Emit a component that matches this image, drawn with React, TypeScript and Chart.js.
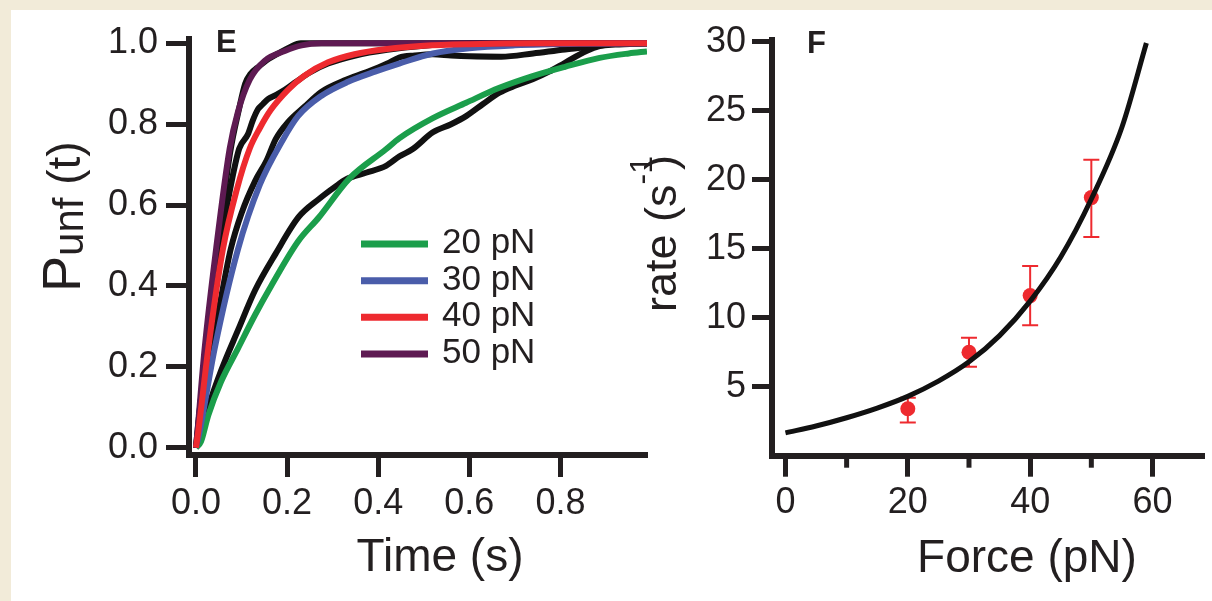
import React, { useEffect, useRef } from 'react';
import { Chart, registerables } from 'chart.js';

Chart.register(...registerables);

// ---------------- Panel E data (time in s, P_unf) ----------------
const fit20T = [0, 0.011, 0.027, 0.055, 0.092, 0.129, 0.165, 0.224, 0.27, 0.336, 0.417, 0.446, 0.52, 0.593, 0.666, 0.739, 0.81, 0.886, 0.95, 0.99];
const fit20P = [0, 0.015, 0.08, 0.163, 0.245, 0.327, 0.4, 0.51, 0.57, 0.665, 0.738, 0.765, 0.815, 0.853, 0.89, 0.919, 0.942, 0.964, 0.975, 0.98];

const fit30T = [0, 0.008, 0.041, 0.092, 0.14, 0.19, 0.224, 0.275, 0.334, 0.393, 0.446, 0.52, 0.6, 0.7, 0.85, 0.99];
const fit30P = [0, 0.04, 0.245, 0.49, 0.65, 0.76, 0.82, 0.87, 0.905, 0.93, 0.95, 0.975, 0.988, 0.995, 0.999, 1.0];

const fit40T = [0, 0.005, 0.027, 0.059, 0.09, 0.118, 0.14, 0.164, 0.202, 0.238, 0.29, 0.348, 0.42, 0.5, 0.6, 0.75, 0.99];
const fit40P = [0, 0.04, 0.245, 0.49, 0.64, 0.74, 0.79, 0.835, 0.885, 0.92, 0.953, 0.973, 0.986, 0.994, 0.998, 1.0, 1.0];

const fit50T = [0, 0.004, 0.019, 0.044, 0.074, 0.092, 0.118, 0.151, 0.195, 0.232, 0.275, 0.4, 0.99];
const fit50P = [0, 0.05, 0.245, 0.49, 0.74, 0.83, 0.91, 0.957, 0.981, 0.995, 1.0, 1.0, 1.0];

const data20T = [0, 0.01, 0.027, 0.055, 0.092, 0.13, 0.175, 0.225, 0.27, 0.305, 0.33, 0.373, 0.417, 0.446, 0.475, 0.52, 0.56, 0.593, 0.63, 0.666, 0.7, 0.739, 0.775, 0.81, 0.857, 0.886, 0.92, 0.99];
const data20P = [0, 0.03, 0.1, 0.19, 0.29, 0.39, 0.48, 0.57, 0.615, 0.645, 0.664, 0.68, 0.697, 0.72, 0.738, 0.78, 0.8, 0.82, 0.85, 0.878, 0.895, 0.911, 0.93, 0.952, 0.981, 0.993, 0.997, 1.0];

const data30T = [0, 0.01, 0.034, 0.055, 0.076, 0.1, 0.13, 0.155, 0.175, 0.202, 0.238, 0.275, 0.325, 0.378, 0.42, 0.446, 0.48, 0.52, 0.56, 0.6, 0.67, 0.74, 0.81, 0.857, 0.9, 0.99];
const data30P = [0, 0.06, 0.245, 0.37, 0.49, 0.58, 0.66, 0.71, 0.763, 0.805, 0.843, 0.88, 0.908, 0.93, 0.95, 0.965, 0.97, 0.973, 0.97, 0.968, 0.967, 0.975, 0.985, 0.99, 0.998, 1.0];

const data40T = [0, 0.005, 0.024, 0.052, 0.075, 0.095, 0.114, 0.125, 0.136, 0.147, 0.158, 0.175, 0.195, 0.22, 0.25, 0.29, 0.35, 0.42, 0.5, 0.6, 0.99];
const data40P = [0, 0.06, 0.245, 0.49, 0.64, 0.74, 0.775, 0.81, 0.837, 0.85, 0.862, 0.872, 0.885, 0.905, 0.928, 0.95, 0.97, 0.984, 0.994, 1.0, 1.0];

const data50T = [0, 0.005, 0.02, 0.045, 0.075, 0.095, 0.108, 0.12, 0.135, 0.155, 0.18, 0.205, 0.23, 0.3, 0.99];
const data50P = [0, 0.05, 0.23, 0.47, 0.73, 0.84, 0.9, 0.925, 0.94, 0.958, 0.975, 0.99, 1.0, 1.0, 1.0];

const legendLabels = ['20 pN', '30 pN', '40 pN', '50 pN'];
const eXTicks = [0, 0.2, 0.4, 0.6, 0.8];
const eYTicks = [0, 0.2, 0.4, 0.6, 0.8, 1.0];

// ---------------- Panel F data (force pN, rate s^-1) ----------------
const fitForce = [0, 5, 10, 15, 20, 25, 30, 35, 40, 45, 50, 55, 59];
const fitRate = [1.65, 2.15, 2.75, 3.45, 4.3, 5.4, 6.8, 8.7, 11.2, 14.4, 18.6, 23.8, 29.9];

const forces = [20, 30, 40, 50];
const rates = [3.4, 7.5, 11.6, 18.7];
const rateLow = [2.4, 6.45, 9.45, 15.85];
const rateHigh = [4.2, 8.55, 13.75, 21.45];

const fXTicks = [0, 20, 40, 60];
const fXMinorTicks = [10, 30, 50];
const fYTicks = [5, 10, 15, 20, 25, 30];

// ---------------- Styles ----------------
const FONT = '"Liberation Sans", Arial, Helvetica, sans-serif';
const INK = '#231f20';
const GREEN = '#1b9e4b';
const BLUE = '#4a5daa';
const RED = '#ee2a2f';
const PURPLE = '#5e1a52';
const CREAM = '#f2ebd9';
const COLORS = [GREEN, BLUE, RED, PURPLE];

const pts = (xs: number[], ys: number[]) => xs.map((x, i) => ({ x, y: ys[i] }));

function drawRotated(ctx: CanvasRenderingContext2D, x: number, y: number, parts: { text: string; size: number; dy: number; dx?: number }[]) {
  ctx.save();
  ctx.translate(x, y);
  ctx.rotate(-Math.PI / 2);
  ctx.textAlign = 'left';
  ctx.textBaseline = 'alphabetic';
  let cx = 0;
  for (const p of parts) {
    ctx.font = `${p.size}px ${FONT}`;
    cx += p.dx || 0;
    ctx.fillText(p.text, cx, p.dy);
    cx += ctx.measureText(p.text).width;
  }
  ctx.restore();
}

const eText = {
  id: 'eText',
  afterDraw(chart: any) {
    const ctx: CanvasRenderingContext2D = chart.ctx;
    ctx.save();
    ctx.fillStyle = INK;
    ctx.textBaseline = 'alphabetic';
    ctx.textAlign = 'left';
    ctx.font = `bold 31px ${FONT}`;
    ctx.fillText('E', 216, 52);
    ctx.textAlign = 'center';
    ctx.font = `46px ${FONT}`;
    ctx.fillText('Time (s)', 440, 571);
    drawRotated(ctx, 80, 292, [
      { text: 'P', size: 54, dy: 0 },
      { text: 'unf', size: 42, dy: 3 },
      { text: ' (t)', size: 46, dy: 0 },
    ]);
    // legend
    const ys = [244, 280.7, 317.3, 354];
    ctx.lineCap = 'butt';
    legendLabels.forEach((lab, i) => {
      ctx.strokeStyle = COLORS[i];
      ctx.lineWidth = 7;
      ctx.beginPath();
      ctx.moveTo(361, ys[i]);
      ctx.lineTo(428, ys[i]);
      ctx.stroke();
      ctx.fillStyle = INK;
      ctx.textAlign = 'left';
      ctx.font = `35px ${FONT}`;
      ctx.fillText(lab, 442, ys[i] + 9);
    });
    ctx.restore();
  },
};

const OFF = 600; // left of F canvas on the page

const fText = {
  id: 'fText',
  afterDraw(chart: any) {
    const ctx: CanvasRenderingContext2D = chart.ctx;
    ctx.save();
    ctx.fillStyle = INK;
    ctx.textBaseline = 'alphabetic';
    ctx.textAlign = 'left';
    ctx.font = `bold 31px ${FONT}`;
    ctx.fillText('F', 807 - OFF, 53);
    ctx.textAlign = 'center';
    ctx.font = `46px ${FONT}`;
    ctx.fillText('Force (pN)', 1027 - OFF, 572);
    drawRotated(ctx, 676 - OFF, 312, [
      { text: 'rate (s', size: 45, dy: 0 },
      { text: '-1', size: 32, dy: -24 },
      { text: ')', size: 45, dy: 0, dx: -14 },
    ]);
    ctx.restore();
  },
};

const fDecor = {
  id: 'fDecor',
  beforeDatasetsDraw(chart: any) {
    const ctx: CanvasRenderingContext2D = chart.ctx;
    const x = chart.scales.x;
    const y = chart.scales.y;
    ctx.save();
    ctx.strokeStyle = RED;
    ctx.lineWidth = 2;
    forces.forEach((f, i) => {
      const px = x.getPixelForValue(f);
      const lo = y.getPixelForValue(rateLow[i]);
      const hi = y.getPixelForValue(rateHigh[i]);
      ctx.beginPath();
      ctx.moveTo(px, lo);
      ctx.lineTo(px, hi);
      ctx.moveTo(px - 8, lo);
      ctx.lineTo(px + 8, lo);
      ctx.moveTo(px - 8, hi);
      ctx.lineTo(px + 8, hi);
      ctx.stroke();
    });
    ctx.strokeStyle = INK;
    ctx.lineWidth = 5;
    const b = chart.chartArea.bottom;
    fXMinorTicks.forEach((v) => {
      const px = x.getPixelForValue(v);
      ctx.beginPath();
      ctx.moveTo(px, b);
      ctx.lineTo(px, b + 12);
      ctx.stroke();
    });
    ctx.restore();
  },
};

const axisCommon = (tickLen: number, pad: number) => ({
  grid: { display: true, drawOnChartArea: false, drawTicks: true, tickLength: tickLen, tickWidth: 5, tickColor: INK },
  border: { display: true, width: 6, color: INK },
  ticks: { color: INK, font: { family: FONT, size: 36 }, padding: pad, autoSkip: false, maxRotation: 0 },
});

export default function App() {
  const eRef = useRef<HTMLCanvasElement>(null);
  const fRef = useRef<HTMLCanvasElement>(null);

  useEffect(() => {
    document.body.style.margin = '0';
    const blackDs = (t: number[], p: number[]) => ({
      data: pts(t, p), borderColor: '#111111', borderWidth: 6, pointRadius: 0,
      cubicInterpolationMode: 'monotone', order: 10,
    });
    const fitDs = (label: string, t: number[], p: number[], color: string, order: number) => ({
      label, data: pts(t, p), borderColor: color, borderWidth: 6, pointRadius: 0,
      cubicInterpolationMode: 'monotone', order,
    });

    const eAxX = axisCommon(22, 5);
    const eAxY = axisCommon(23, 8);
    const eChart = new Chart(eRef.current as HTMLCanvasElement, {
      type: 'line',
      data: {
        datasets: [
          blackDs(data20T, data20P),
          blackDs(data30T, data30P),
          blackDs(data40T, data40P),
          blackDs(data50T, data50P),
          fitDs(legendLabels[0], fit20T, fit20P, GREEN, 4),
          fitDs(legendLabels[1], fit30T, fit30P, BLUE, 3),
          fitDs(legendLabels[2], fit40T, fit40P, RED, 1),
          fitDs(legendLabels[3], fit50T, fit50P, PURPLE, 2),
        ] as any,
      },
      options: {
        responsive: false,
        animation: false,
        devicePixelRatio: 1,
        events: [],
        layout: { padding: { top: 38.5, right: 13, bottom: 0, left: 0 } },
        plugins: { legend: { display: false }, tooltip: { enabled: false } },
        scales: {
          x: {
            type: 'linear', min: -0.0153, max: 0.99,
            ...eAxX,
            ticks: { ...eAxX.ticks, callback: (v: any) => Number(v).toFixed(1) },
            afterBuildTicks: (s: any) => { s.ticks = eXTicks.map((v) => ({ value: v })); },
            afterFit: (s: any) => { s.height = 146; },
          },
          y: {
            type: 'linear', min: -0.018, max: 1.012,
            ...eAxY,
            ticks: { ...eAxY.ticks, callback: (v: any) => Number(v).toFixed(1) },
            afterBuildTicks: (s: any) => { s.ticks = eYTicks.map((v) => ({ value: v })); },
            afterFit: (s: any) => { s.width = 189; },
          },
        },
      } as any,
      plugins: [eText],
    });

    const fAxX = axisCommon(21, 5);
    const fAxY = axisCommon(20, 6);
    const fChart = new Chart(fRef.current as HTMLCanvasElement, {
      type: 'line',
      data: {
        datasets: [
          {
            data: pts(fitForce, fitRate), borderColor: '#111111', borderWidth: 5, pointRadius: 0,
            cubicInterpolationMode: 'monotone', order: 1,
          },
          {
            data: pts(forces, rates), showLine: false, pointRadius: 7.5, pointBackgroundColor: RED,
            pointBorderWidth: 0, borderColor: RED, order: 2,
          },
        ] as any,
      },
      options: {
        responsive: false,
        animation: false,
        devicePixelRatio: 1,
        events: [],
        layout: { padding: { top: 40, right: 0, bottom: 0, left: 0 } },
        plugins: { legend: { display: false }, tooltip: { enabled: false } },
        scales: {
          x: {
            type: 'linear', min: -2.2, max: 68.5,
            ...fAxX,
            afterBuildTicks: (s: any) => { s.ticks = fXTicks.map((v) => ({ value: v })); },
            afterFit: (s: any) => { s.height = 145.3; },
          },
          y: {
            type: 'linear', min: 0, max: 30.12,
            ...fAxY,
            afterBuildTicks: (s: any) => { s.ticks = fYTicks.map((v) => ({ value: v })); },
            afterFit: (s: any) => { s.width = 172; },
          },
        },
      } as any,
      plugins: [fDecor, fText],
    });

    return () => {
      eChart.destroy();
      fChart.destroy();
    };
  }, []);

  return (
    <div style={{ position: 'absolute', left: 0, top: 0, width: 1212, height: 601, background: CREAM, overflow: 'hidden' }}>
      <div style={{ position: 'absolute', left: 11, top: 10, width: 1201, height: 591, background: '#ffffff' }} />
      <canvas ref={eRef} width={660} height={601} style={{ position: 'absolute', left: 0, top: 0, width: 660, height: 601 }} />
      <canvas ref={fRef} width={612} height={601} style={{ position: 'absolute', left: 600, top: 0, width: 612, height: 601 }} />
    </div>
  );
}
